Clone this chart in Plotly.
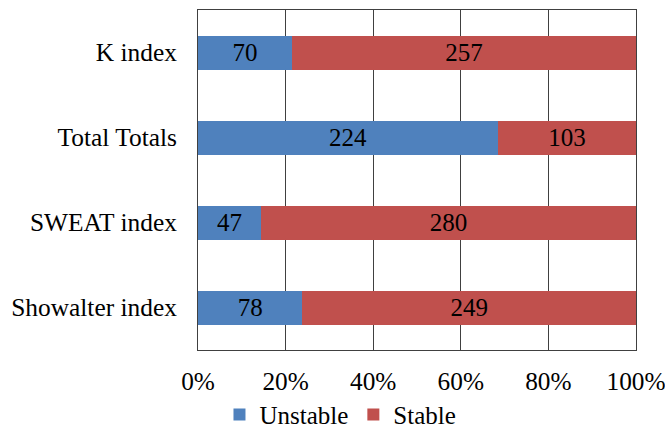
import plotly.graph_objects as go

# Stability index outcomes (counts of soundings)
indices = ["K index", "Total Totals", "SWEAT index", "Showalter index"]
unstable = [70, 224, 47, 78]
stable = [257, 103, 280, 249]
x_ticks = [0, 20, 40, 60, 80, 100]
x_tick_labels = ["0%", "20%", "40%", "60%", "80%", "100%"]

FONT = "Liberation Serif"
BLUE = "#4F81BD"
RED = "#C0504D"
GRID = "#404040"

fig = go.Figure()
for name, vals, color in [("Unstable", unstable, BLUE), ("Stable", stable, RED)]:
    fig.add_trace(go.Bar(
        y=indices,
        x=vals,
        name=name,
        orientation="h",
        marker=dict(color=color, line=dict(width=0)),
        text=vals,
        texttemplate="%{text}",
        textposition="inside",
        insidetextanchor="middle",
        textangle=0,
        constraintext="none",
        insidetextfont=dict(family=FONT, size=25, color="black"),
        hoverinfo="skip",
    ))

fig.update_layout(
    width=665,
    height=429,
    margin=dict(l=198, r=29, t=10, b=79, autoexpand=False),
    barmode="stack",
    barnorm="percent",
    bargap=0.6,
    paper_bgcolor="white",
    plot_bgcolor="white",
    font=dict(family=FONT, size=25, color="black"),
    showlegend=True,
    legend=dict(
        orientation="h",
        traceorder="normal",
        xref="container",
        yref="container",
        x=0.512,
        y=0.033,
        xanchor="center",
        yanchor="middle",
        bgcolor="rgba(0,0,0,0)",
        font=dict(family=FONT, size=25, color="black"),
        itemwidth=30,
        tracegroupgap=0,
    ),
)

fig.update_xaxes(
    range=[0, 100],
    tickvals=x_ticks,
    ticktext=x_tick_labels,
    tickfont=dict(family=FONT, size=25.3, color="black"),
    showgrid=True,
    gridcolor=GRID,
    gridwidth=1,
    showline=True,
    linecolor=GRID,
    linewidth=1,
    mirror=True,
    ticks="",
    ticklabelstandoff=9,
    ticklabeloverflow="allow",
    automargin=False,
    zeroline=False,
    fixedrange=True,
)
fig.update_yaxes(
    categoryorder="array",
    categoryarray=indices[::-1],
    tickfont=dict(family=FONT, size=25.4, color="black"),
    showgrid=False,
    showline=True,
    linecolor=GRID,
    linewidth=1,
    mirror=True,
    ticks="",
    ticklabelstandoff=15,
    automargin=False,
    fixedrange=True,
)

fig.write_html("out.html")
